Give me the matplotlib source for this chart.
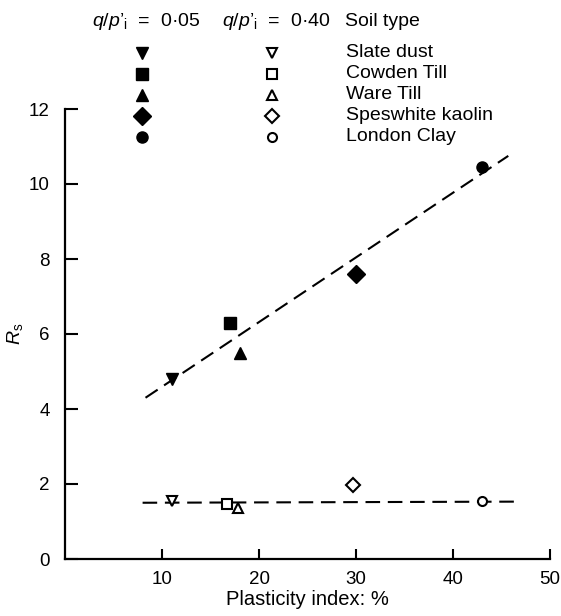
import numpy as np
import matplotlib
matplotlib.use("Agg")
import matplotlib.pyplot as plt

plt.rcParams["font.family"] = ["Liberation Sans", "DejaVu Sans"]
plt.rcParams["mathtext.fontset"] = "custom"
plt.rcParams["mathtext.rm"] = "Liberation Sans"
plt.rcParams["mathtext.it"] = "Liberation Sans:italic"

# Soil types and plasticity index (%)
soils = ["Slate dust", "Cowden Till", "Ware Till", "Speswhite kaolin", "London Clay"]
plasticity = [11, 17, 18, 30, 43]
plasticity_low = [11, 16.7, 17.8, 29.7, 43]
markers = ["v", "s", "^", "D", "o"]

# R_s measured at q/p'_i = 0.05 (filled) and 0.40 (open)
rs_005 = [4.8, 6.3, 5.5, 7.6, 10.45]
rs_040 = [1.55, 1.48, 1.35, 1.97, 1.55]

# Dashed trend lines (end points)
trend_005_x = [8.3, 45.7]
trend_005_y = [4.3, 10.75]
trend_040_x = [8.0, 46.8]
trend_040_y = [1.5, 1.53]

FS = 14

fig = plt.figure(figsize=(5.61, 6.16), dpi=100)
ax = fig.add_axes([65 / 561, 1 - 559 / 616, 485 / 561, 450 / 616])

ax.plot(trend_005_x, trend_005_y, color="black", lw=1.5, dashes=(7, 3.7))
ax.plot(trend_040_x, trend_040_y, color="black", lw=1.5, dashes=(7, 3.7))

for x, y, m in zip(plasticity, rs_005, markers):
    ms = 9 if m == "D" else 8
    ax.plot(x, y, marker=m, color="black", ms=ms, ls="none", zorder=3)
for x, y, m in zip(plasticity_low, rs_040, markers):
    ms = 7.5 if m == "D" else 6.5
    ax.plot(x, y, marker=m, mfc="white", mec="black", mew=1.5, ms=ms,
            ls="none", zorder=3)

ax.set_xlim(0, 50)
ax.set_ylim(0, 12)
ax.set_xticks([10, 20, 30, 40, 50])
ax.set_yticks(np.arange(0, 13, 2))
ax.spines["top"].set_visible(False)
ax.spines["right"].set_visible(False)
for s in ("left", "bottom"):
    ax.spines[s].set_linewidth(1.6)
ax.tick_params(axis="both", direction="in", width=1.5, labelsize=13.5)
ax.tick_params(axis="y", length=9, pad=11)
ax.tick_params(axis="x", length=7, pad=9)
ax.set_xlabel("Plasticity index: %", fontsize=14.5, labelpad=1)
ax.set_ylabel(r"$R_{\mathrm{s}}$", fontsize=14)
ax.yaxis.set_label_coords(-0.082, 0.5)

# Key drawn above the plot in pixel coordinates
key = fig.add_axes([0, 0, 1, 1], facecolor="none")
key.set_xlim(0, 561)
key.set_ylim(616, 0)
key.axis("off")
header = r"$q/p$’${}_{\mathrm{i}}$  =  "
key.text(92, 21, header + "0·05", fontsize=FS, va="center")
key.text(222, 21, header + "0·40", fontsize=FS, va="center")
key.text(345, 21, "Soil type", fontsize=FS, va="center")
for i, (name, m) in enumerate(zip(soils, markers)):
    y = 52.5 + 21 * i
    key.plot(142, y, marker=m, color="black", ms=9 if m == "D" else 8, ls="none")
    key.plot(272, y, marker=m, mfc="white", mec="black", mew=1.5,
             ms=7.5 if m == "D" else 6.5, ls="none")
    key.text(346, y, name, fontsize=FS, va="center")

fig.savefig("out.png", dpi=100)
